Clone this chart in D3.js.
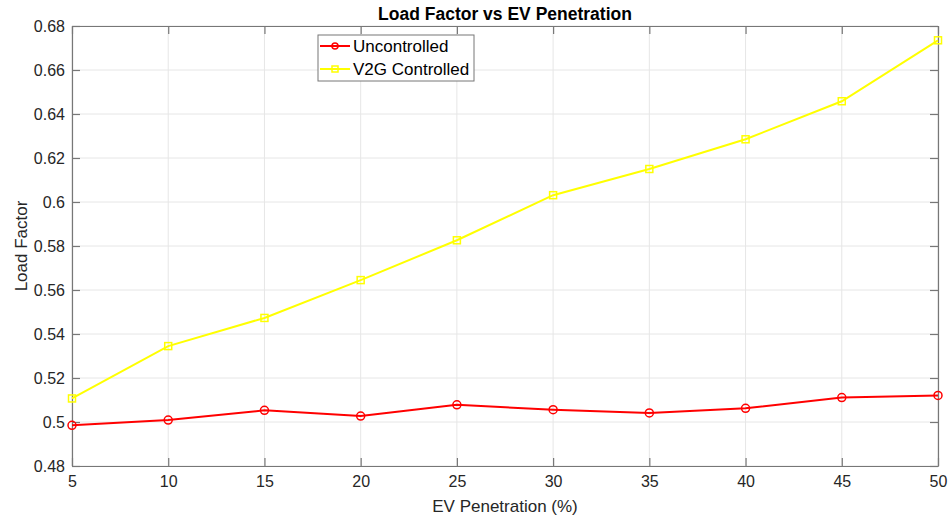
<!DOCTYPE html>
<html>
<head>
<meta charset="utf-8">
<script src="https://cdn.jsdelivr.net/npm/d3@7"></script>
<style>
	body { margin: 0; background: #fff; }
	svg { font-family: "Liberation Sans", Arial, sans-serif; }
</style>
</head>
<body>
<svg id="chart"></svg>
<script>
// load factor vs EV penetration, two series

const penetration = [5, 10, 15, 20, 25, 30, 35, 40, 45, 50];
const uncontrolled = [0.4985, 0.5009, 0.5053, 0.5027, 0.5078, 0.5056, 0.5041, 0.5062, 0.5111, 0.5121];
const v2gControlled = [0.5107, 0.5345, 0.5473, 0.5645, 0.5826, 0.6031, 0.6150, 0.6285, 0.6458, 0.6735];
const xTicks = [5, 10, 15, 20, 25, 30, 35, 40, 45, 50];
const yTicks = [0.48, 0.5, 0.52, 0.54, 0.56, 0.58, 0.6, 0.62, 0.64, 0.66, 0.68];
const seriesNames = ["Uncontrolled", "V2G Controlled"];

let width = 951;
let height = 521;
let margin = {top: 26, right: 13, bottom: 55, left: 72};

let svg = d3.select("#chart")
	.attr("width", width)
	.attr("height", height);

let x = d3.scaleLinear()
	.domain([5, 50])
	.range([margin.left, width - margin.right]);

let y = d3.scaleLinear()
	.domain([0.48, 0.68])
	.range([height - margin.bottom, margin.top]);

let axisColor = "#777";
let textColor = "#262626";

// grid
svg.append("g")
	.selectAll("line")
	.data(xTicks)
	.join("line")
	.attr("x1", d => x(d)).attr("x2", d => x(d))
	.attr("y1", y(0.48)).attr("y2", y(0.68))
	.attr("stroke", "#e6e6e6")
	.attr("stroke-width", 1);

svg.append("g")
	.selectAll("line")
	.data(yTicks)
	.join("line")
	.attr("x1", x(5)).attr("x2", x(50))
	.attr("y1", d => y(d)).attr("y2", d => y(d))
	.attr("stroke", "#e6e6e6")
	.attr("stroke-width", 1);

// axes, ticks pointing inward like matlab
let fmtY = d => String(+d.toFixed(2));

let bottomAxis = svg.append("g")
	.attr("transform", "translate(0," + y(0.48) + ")")
	.call(d3.axisBottom(x).tickValues(xTicks).tickSize(-8).tickPadding(10).tickSizeOuter(0));
let topAxis = svg.append("g")
	.attr("transform", "translate(0," + y(0.68) + ")")
	.call(d3.axisTop(x).tickValues(xTicks).tickSize(-8).tickFormat("").tickSizeOuter(0));
let leftAxis = svg.append("g")
	.attr("transform", "translate(" + x(5) + ",0)")
	.call(d3.axisLeft(y).tickValues(yTicks).tickSize(-8).tickPadding(7).tickFormat(fmtY).tickSizeOuter(0));
let rightAxis = svg.append("g")
	.attr("transform", "translate(" + x(50) + ",0)")
	.call(d3.axisRight(y).tickValues(yTicks).tickSize(-8).tickFormat("").tickSizeOuter(0));

[bottomAxis, topAxis, leftAxis, rightAxis].forEach(a => {
	a.select(".domain").attr("stroke", axisColor).attr("stroke-width", 1.2);
	a.selectAll(".tick line").attr("stroke", axisColor).attr("stroke-width", 1.2);
	a.selectAll(".tick text")
		.attr("fill", textColor)
		.style("font-size", "16px")
		.style("font-family", "'Liberation Sans', Arial, sans-serif");
});

// lines
let line = d3.line()
	.x((d, i) => x(penetration[i]))
	.y(d => y(d));

svg.append("path")
	.datum(v2gControlled)
	.attr("d", line)
	.attr("fill", "none")
	.attr("stroke", "#ffff00")
	.attr("stroke-width", 2);

svg.append("g")
	.selectAll("rect")
	.data(v2gControlled)
	.join("rect")
	.attr("x", (d, i) => x(penetration[i]) - 3.5)
	.attr("y", d => y(d) - 3.5)
	.attr("width", 7)
	.attr("height", 7)
	.attr("fill", "none")
	.attr("stroke", "#ffff00")
	.attr("stroke-width", 1.5);

svg.append("path")
	.datum(uncontrolled)
	.attr("d", line)
	.attr("fill", "none")
	.attr("stroke", "#ff0000")
	.attr("stroke-width", 2);

svg.append("g")
	.selectAll("circle")
	.data(uncontrolled)
	.join("circle")
	.attr("cx", (d, i) => x(penetration[i]))
	.attr("cy", d => y(d))
	.attr("r", 4)
	.attr("fill", "none")
	.attr("stroke", "#ff0000")
	.attr("stroke-width", 1.5);

// title and labels
svg.append("text")
	.attr("x", (x(5) + x(50)) / 2)
	.attr("y", 20)
	.attr("text-anchor", "middle")
	.attr("fill", "#000")
	.style("font-size", "17.5px")
	.style("font-weight", "bold")
	.text("Load Factor vs EV Penetration");

svg.append("text")
	.attr("x", (x(5) + x(50)) / 2)
	.attr("y", 512)
	.attr("text-anchor", "middle")
	.attr("fill", textColor)
	.style("font-size", "17px")
	.text("EV Penetration (%)");

svg.append("text")
	.attr("transform", "translate(27," + (y(0.58)) + ") rotate(-90)")
	.attr("text-anchor", "middle")
	.attr("fill", textColor)
	.style("font-size", "17px")
	.text("Load Factor");

// legend
let legend = svg.append("g").attr("transform", "translate(318,35)");
legend.append("rect")
	.attr("width", 156)
	.attr("height", 46)
	.attr("fill", "#fff")
	.attr("stroke", "#777")
	.attr("stroke-width", 1);

let legendColors = ["#ff0000", "#ffff00"];
seriesNames.forEach((name, i) => {
	let g = legend.append("g").attr("transform", "translate(0," + (11 + i * 23) + ")");
	g.append("line")
		.attr("x1", 2).attr("x2", 32)
		.attr("stroke", legendColors[i])
		.attr("stroke-width", 2);
	if (i == 0) {
		g.append("circle").attr("cx", 17).attr("r", 3)
			.attr("fill", "none").attr("stroke", legendColors[i]).attr("stroke-width", 1.5);
	} else {
		g.append("rect").attr("x", 14).attr("y", -3).attr("width", 6).attr("height", 6)
			.attr("fill", "none").attr("stroke", legendColors[i]).attr("stroke-width", 1.5);
	}
	g.append("text")
		.attr("x", 35)
		.attr("y", 6)
		.attr("fill", "#000")
		.style("font-size", "17px")
		.text(name);
});
</script>
</body>
</html>
